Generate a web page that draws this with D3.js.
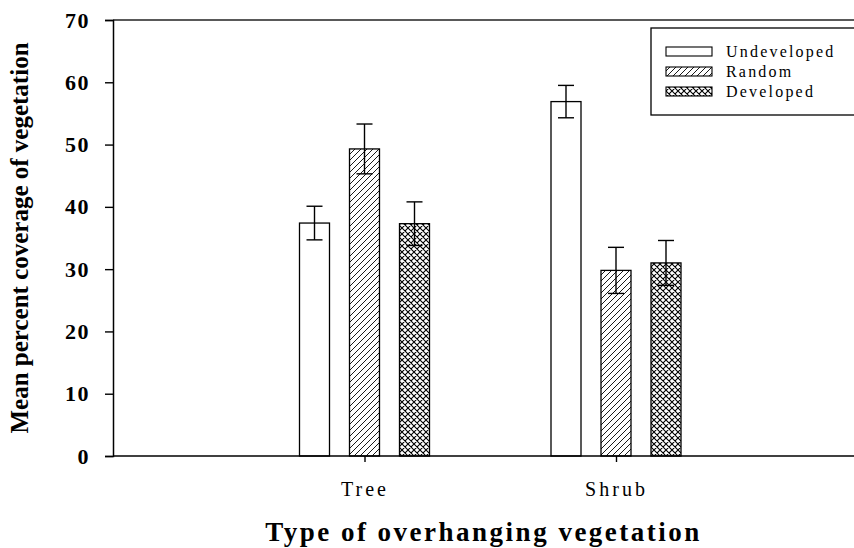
<!DOCTYPE html>
<html>
<head>
<meta charset="utf-8">
<script src="https://cdn.jsdelivr.net/npm/d3@7"></script>
<style>
  html, body { margin: 0; padding: 0; background: #fff; }
  svg { display: block; }
</style>
</head>
<body>
<svg id="chart" width="854" height="548"></svg>
<script>
// Mean percent coverage of vegetation by overhanging vegetation type
const categories = ["Tree", "Shrub"];
const seriesNames = ["Undeveloped", "Random", "Developed"];
const undevelopedMeans = [37.4, 56.9];
const randomMeans = [49.3, 29.8];
const developedMeans = [37.3, 31.0];
const undevelopedErr = [2.7, 2.6];
const randomErr = [4.0, 3.7];
const developedErr = [3.5, 3.6];
const yTicks = [0, 10, 20, 30, 40, 50, 60, 70];

const means = [undevelopedMeans, randomMeans, developedMeans];
const errs = [undevelopedErr, randomErr, developedErr];
const fills = ["#fff", "url(#hatch)", "url(#cross)"];

const svg = d3.select("#chart");
const W = 854, H = 548;
const plotLeft = 113, plotTop = 20, plotBottom = 456;

const y = d3.scaleLinear().domain([0, 70]).range([plotBottom, plotTop]);
const x = d3.scalePoint().domain(categories).range([plotLeft, plotLeft + 3 * 251.5]).padding(1);
const xs = d3.scaleBand().domain(seriesNames).range([-65, 65]).paddingInner(0.4).paddingOuter(0);

// Fill patterns
const defs = svg.append("defs");
const hatch = defs.append("pattern").attr("id", "hatch")
  .attr("patternUnits", "userSpaceOnUse").attr("width", 6).attr("height", 6);
hatch.append("rect").attr("width", 6).attr("height", 6).attr("fill", "#fff");
hatch.append("path").attr("d", "M-1,1 l2,-2 M0,6 l6,-6 M5,7 l2,-2")
  .attr("stroke", "#000").attr("stroke-width", 0.9);

const cross = defs.append("pattern").attr("id", "cross")
  .attr("patternUnits", "userSpaceOnUse").attr("width", 6).attr("height", 6);
cross.append("rect").attr("width", 6).attr("height", 6).attr("fill", "#fff");
cross.append("path").attr("d", "M-1,1 l2,-2 M0,6 l6,-6 M5,7 l2,-2 M-1,5 l2,2 M0,0 l6,6 M5,-1 l2,2")
  .attr("stroke", "#000").attr("stroke-width", 1.1);

// Bars and error bars
const barData = [];
categories.forEach((c, ci) => {
  seriesNames.forEach((s, si) => {
    barData.push({ c, s, si, v: means[si][ci], e: errs[si][ci] });
  });
});

const g = svg.append("g");
g.selectAll("rect.bar").data(barData).enter().append("rect")
  .attr("class", "bar")
  .attr("x", d => x(d.c) + xs(d.s))
  .attr("width", xs.bandwidth())
  .attr("y", d => y(d.v))
  .attr("height", d => y(0) - y(d.v))
  .attr("fill", d => fills[d.si])
  .attr("stroke", "#000").attr("stroke-width", 1.3);

const eb = g.selectAll("g.err").data(barData).enter().append("g")
  .attr("transform", d => `translate(${x(d.c) + xs(d.s) + xs.bandwidth() / 2},0)`);
eb.append("line").attr("y1", d => y(d.v + d.e)).attr("y2", d => y(d.v - d.e))
  .attr("stroke", "#000").attr("stroke-width", 1.4);
eb.append("line").attr("x1", -8).attr("x2", 8)
  .attr("y1", d => y(d.v + d.e)).attr("y2", d => y(d.v + d.e))
  .attr("stroke", "#000").attr("stroke-width", 1.4);
eb.append("line").attr("x1", -8).attr("x2", 8)
  .attr("y1", d => y(d.v - d.e)).attr("y2", d => y(d.v - d.e))
  .attr("stroke", "#000").attr("stroke-width", 1.4);

// Top frame line
svg.append("line").attr("x1", plotLeft).attr("x2", W).attr("y1", plotTop).attr("y2", plotTop)
  .attr("stroke", "#222").attr("stroke-width", 1.4);

const serif = "'Liberation Serif', 'DejaVu Serif', serif";

// Y axis
const yAxis = svg.append("g").attr("transform", `translate(${plotLeft},0)`)
  .call(d3.axisLeft(y).tickValues(yTicks).tickSize(8).tickPadding(15));
yAxis.select(".domain").attr("stroke", "#000").attr("stroke-width", 1.5);
yAxis.selectAll(".tick line").attr("stroke", "#000").attr("stroke-width", 1.4);
yAxis.selectAll(".tick text")
  .attr("font-family", serif)
  .attr("font-size", 22).attr("font-weight", "bold").attr("fill", "#000")
  .style("letter-spacing", "1.5px");

// X axis
const xAxis = svg.append("g").attr("transform", `translate(0,${plotBottom})`)
  .call(d3.axisBottom(x).tickSize(6).tickPadding(20));
xAxis.select(".domain").attr("d", `M${plotLeft},0H${W}`).attr("stroke", "#000").attr("stroke-width", 1.5);
xAxis.selectAll(".tick line").attr("stroke", "#000").attr("stroke-width", 1.4);
xAxis.selectAll(".tick text")
  .attr("font-family", serif)
  .attr("font-size", 20).attr("fill", "#000")
  .style("letter-spacing", "3px");

// Axis titles, centred on their axes
svg.append("text").attr("x", (plotLeft + W) / 2).attr("y", 541).attr("text-anchor", "middle")
  .attr("font-family", serif).attr("font-weight", "bold")
  .attr("font-size", 27).style("letter-spacing", "2.5px")
  .text("Type of overhanging vegetation");

svg.append("text").attr("transform", `translate(28,${(plotTop + plotBottom) / 2}) rotate(-90)`)
  .attr("text-anchor", "middle")
  .attr("font-family", serif).attr("font-weight", "bold")
  .attr("font-size", 25)
  .text("Mean percent coverage of vegetation");

// Legend
const legend = svg.append("g");
legend.append("rect").attr("x", 651).attr("y", 28).attr("width", 230).attr("height", 87)
  .attr("fill", "#fff").attr("stroke", "#000").attr("stroke-width", 1.3);
const li = legend.selectAll("g.item").data(seriesNames).enter().append("g")
  .attr("transform", (d, i) => `translate(666,${[51, 71, 91][i]})`);
li.append("rect").attr("x", 0).attr("y", -4).attr("width", 46).attr("height", 9)
  .attr("fill", (d, i) => fills[i]).attr("stroke", "#000").attr("stroke-width", 1.1);
li.append("text").attr("x", 60).attr("y", 6)
  .attr("font-family", serif).attr("font-size", 16)
  .style("letter-spacing", "2.2px").text(d => d);
</script>
</body>
</html>
